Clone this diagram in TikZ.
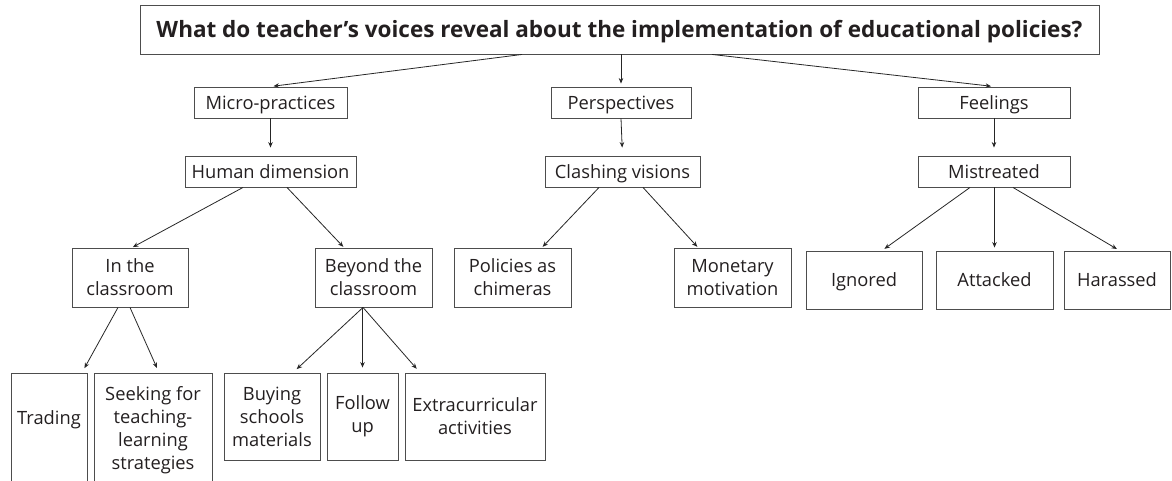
\documentclass[tikz,border=0pt]{standalone}
\usepackage{fontspec}
\setmainfont{Open Sans}
\usetikzlibrary{arrows.meta, positioning}
\tikzset{>={Stealth[length=5.5pt,width=4.5pt]}}

\definecolor{boxgray}{HTML}{4D4D4D}
\definecolor{inkgray}{HTML}{231F20}
\newcommand{\boxfont}{\fontsize{18.3}{23}\selectfont}
\newcommand{\questionfont}{\fontsize{22.5}{26}\selectfont\bfseries}

\tikzset{
  box/.style={draw=boxgray, line width=0.9pt, inner sep=0pt, align=center,
    font=\boxfont, text=inkgray, minimum height=31pt},
  onebox/.style={box, text height=13pt, text depth=0pt},
  tallbox/.style={box, minimum height=59pt},
  link/.style={->, line width=0.8pt, draw=black!85},
}

\begin{document}
\begin{tikzpicture}[x=1pt, y=-1pt]
\useasboundingbox (0,0) rectangle (1172,480);

% question and the three themes
\node[onebox, minimum width=959pt, minimum height=49pt, font=\questionfont, text height=16pt] (question) at (619.5,29.5)
  {What do teacher’s voices reveal about the implementation of educational policies?};
\node[onebox, minimum width=153pt] (micro) at (270.5,102.5) {Micro-practices};
\node[onebox, minimum width=140pt] (persp) at (621,102.5) {Perspectives};
\node[onebox, minimum width=152pt] (feel) at (994,102.5) {Feelings};

\node[onebox, minimum width=171pt] (human) at (270.5,171.5) {Human dimension};
\node[onebox, minimum width=155pt] (clash) at (622.5,171.5) {Clashing visions};
\node[onebox, minimum width=152pt] (mistr) at (994,171.5) {Mistreated};

% third level
\node[tallbox, minimum width=116pt] (inclass) at (130,277.5) {In the\\classroom};
\node[tallbox, minimum width=117pt] (beyond) at (373.5,277.5) {Beyond the\\classroom};
\node[tallbox, minimum width=117pt] (chimeras) at (512.5,277.5) {Policies as\\chimeras};
\node[tallbox, minimum width=117pt] (money) at (732.5,277.5) {Monetary\\motivation};
\node[onebox, minimum width=116pt, minimum height=58pt] (ignored) at (864,280) {Ignored};
\node[onebox, minimum width=117pt, minimum height=58pt] (attacked) at (994.5,280) {Attacked};
\node[onebox, minimum width=106pt, minimum height=58pt] (harassed) at (1117,280) {Harassed};

% fourth level (the two left boxes run off the page)
\node[box, minimum width=76pt, minimum height=115pt, text height=13pt, text depth=25pt] (trading) at (49,430.5) {Trading};
\node[box, minimum width=118pt, minimum height=115pt] (seeking) at (153,430.5)
  {Seeking for\\teaching-\\learning\\strategies};
\node[box, minimum width=96pt, minimum height=87pt] (buying) at (272,416.5) {Buying\\schools\\materials};
\node[box, minimum width=71pt, minimum height=87pt] (follow) at (362.5,416.5) {Follow\\up};
\node[box, minimum width=140pt, minimum height=87pt] (extra) at (475,416.5) {Extracurricular\\activities};

% connectors
\draw[link, shorten >=3pt] ([xshift=-97.5pt]question.south) -- (micro.north);
\draw[link, shorten >=3pt] (question.south -| persp.north) -- (persp.north);
\draw[link, shorten >=3pt] ([xshift=92.5pt]question.south) -- (feel.north);

\draw[link, shorten >=8pt] (micro.south) -- (human.north);
\draw[link, shorten >=8pt] (persp.south) -- (clash.north);
\draw[link, shorten >=8pt] (feel.south) -- (mistr.north);

\draw[link, shorten >=1pt] ([xshift=-27.5pt]human.south) -- ([xshift=2pt]inclass.north);
\draw[link, shorten >=1pt] ([xshift=16.5pt]human.south) -- ([xshift=-29.5pt]beyond.north);
\draw[link, shorten >=1pt] ([xshift=-23.5pt]clash.south) -- ([xshift=29.5pt]chimeras.north);
\draw[link, shorten >=1pt] ([xshift=20.5pt]clash.south) -- ([xshift=-34.5pt]money.north);
\draw[link, shorten >=3pt] ([xshift=-24pt]mistr.south) -- ([xshift=18pt]ignored.north);
\draw[link, shorten >=3pt] (mistr.south -| attacked.north) -- (attacked.north);
\draw[link, shorten >=3pt] ([xshift=19pt]mistr.south) -- ([xshift=2.5pt]harassed.north);

\draw[link, shorten >=5pt] ([xshift=-12pt]inclass.south) -- ([xshift=33pt]trading.north);
\draw[link, shorten >=5pt] (inclass.south) -- ([xshift=6pt]seeking.north);
\draw[link, shorten >=5pt] ([xshift=-10.5pt]beyond.south) -- ([xshift=21pt]buying.north);
\draw[link, shorten >=5pt] (beyond.south -| follow.north) -- (follow.north);
\draw[link, shorten >=5pt] ([xshift=-10.5pt]beyond.south) -- ([xshift=-55pt]extra.north);

\end{tikzpicture}
\end{document}
